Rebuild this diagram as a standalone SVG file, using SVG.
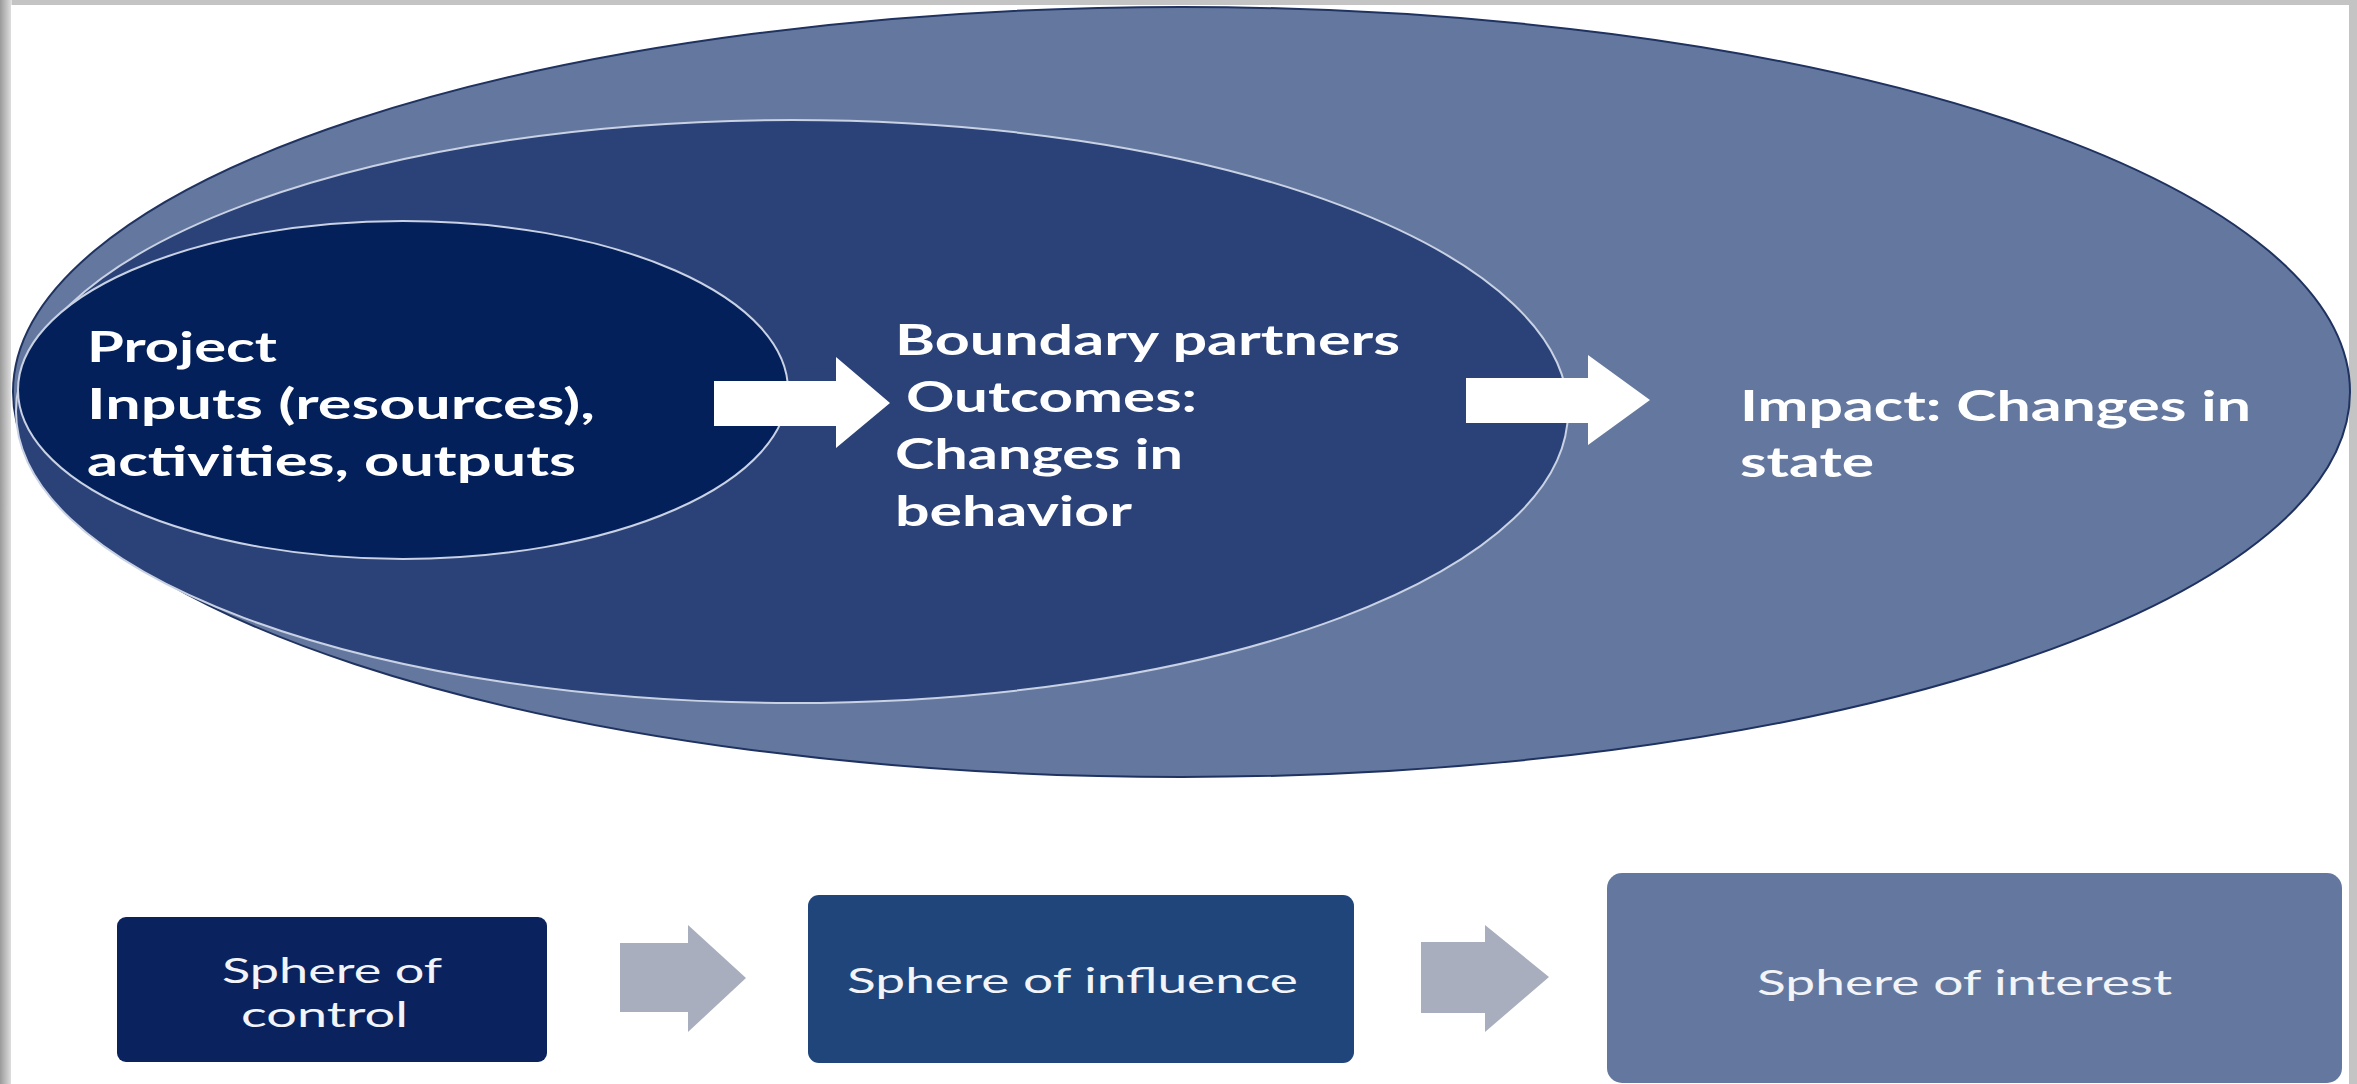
<svg xmlns="http://www.w3.org/2000/svg" width="2357" height="1084" viewBox="0 0 2357 1084">
  <style>
    .lbl { font-family: Lato, "Open Sans", "Liberation Sans", sans-serif; font-weight: 700; font-size: 42px; fill: #ffffff; }
    .box { font-family: Lato, "Open Sans", "Liberation Sans", sans-serif; font-weight: 400; font-size: 35px; fill: #f2f4f8; }
    .white-arrow { fill: #ffffff; }
    .grey-arrow { fill: #a9aebe; }
  </style>
  <defs>
    <linearGradient id="frameLeft" x1="0" y1="0" x2="1" y2="0">
      <stop offset="0" stop-color="#9a9a9a"/>
      <stop offset="1" stop-color="#e4e4e4"/>
    </linearGradient>
  </defs>

  <!-- page frame -->
  <rect x="0" y="0" width="2357" height="1084" fill="#c4c4c4"/>
  <rect x="0" y="0" width="12" height="1084" fill="url(#frameLeft)"/>
  <rect x="11" y="5" width="2338" height="1079" fill="#ffffff"/>

  <!-- nested spheres -->
  <g id="sphere-interest">
    <ellipse cx="1181.5" cy="392" rx="1168.5" ry="385" fill="#64789f" stroke="#1f3260" stroke-width="2"/>
    <text class="lbl" x="1740" y="421" textLength="511" lengthAdjust="spacingAndGlyphs">Impact: Changes in</text>
    <text class="lbl" x="1740" y="477" textLength="134" lengthAdjust="spacingAndGlyphs">state</text>
  </g>

  <g id="sphere-influence">
    <ellipse cx="792" cy="411.5" rx="776" ry="291.5" fill="#2b4279" stroke="#c9d2e4" stroke-width="2"/>
    <text class="lbl" x="895" y="355" textLength="505" lengthAdjust="spacingAndGlyphs">Boundary partners</text>
    <text class="lbl" x="906" y="412" textLength="291" lengthAdjust="spacingAndGlyphs">Outcomes:</text>
    <text class="lbl" x="895" y="469" textLength="288" lengthAdjust="spacingAndGlyphs">Changes in</text>
    <text class="lbl" x="895" y="526" textLength="237" lengthAdjust="spacingAndGlyphs">behavior</text>
  </g>

  <g id="sphere-control">
    <ellipse cx="403" cy="390" rx="385" ry="169" fill="#03205b" stroke="#c9d2e4" stroke-width="2"/>
    <text class="lbl" x="87" y="362" textLength="190" lengthAdjust="spacingAndGlyphs">Project</text>
    <text class="lbl" x="87" y="419" textLength="508" lengthAdjust="spacingAndGlyphs">Inputs (resources),</text>
    <text class="lbl" x="87" y="476" textLength="489" lengthAdjust="spacingAndGlyphs">activities, outputs</text>
  </g>

  <!-- legend boxes -->
  <g id="box-control">
    <rect x="117" y="917" width="430" height="145" rx="9" fill="#0a235f"/>
    <text class="box" x="222" y="983" textLength="220" lengthAdjust="spacingAndGlyphs">Sphere of</text>
    <text class="box" x="241" y="1027" textLength="167" lengthAdjust="spacingAndGlyphs">control</text>
  </g>

  <g id="box-influence">
    <rect x="808" y="895" width="546" height="168" rx="11" fill="#1f457a"/>
    <text class="box" x="847" y="993" textLength="451" lengthAdjust="spacingAndGlyphs">Sphere of influence</text>
  </g>

  <g id="box-interest">
    <rect x="1607" y="873" width="735" height="210" rx="15" fill="#64789f"/>
    <text class="box" x="1757" y="995" textLength="415" lengthAdjust="spacingAndGlyphs">Sphere of interest</text>
  </g>

  <!-- connectors -->
  <g id="connectors">
    <polygon class="white-arrow" points="714,381 836,381 836,357 890,403 836,448 836,426 714,426"/>
    <polygon class="white-arrow" points="1466,378 1588,378 1588,355 1650,400 1588,445 1588,423 1466,423"/>
    <polygon class="grey-arrow" points="620,943 688,943 688,925 746,978 688,1032 688,1012 620,1012"/>
    <polygon class="grey-arrow" points="1421,942 1485,942 1485,925 1549,977 1485,1032 1485,1013 1421,1013"/>
  </g>
</svg>
